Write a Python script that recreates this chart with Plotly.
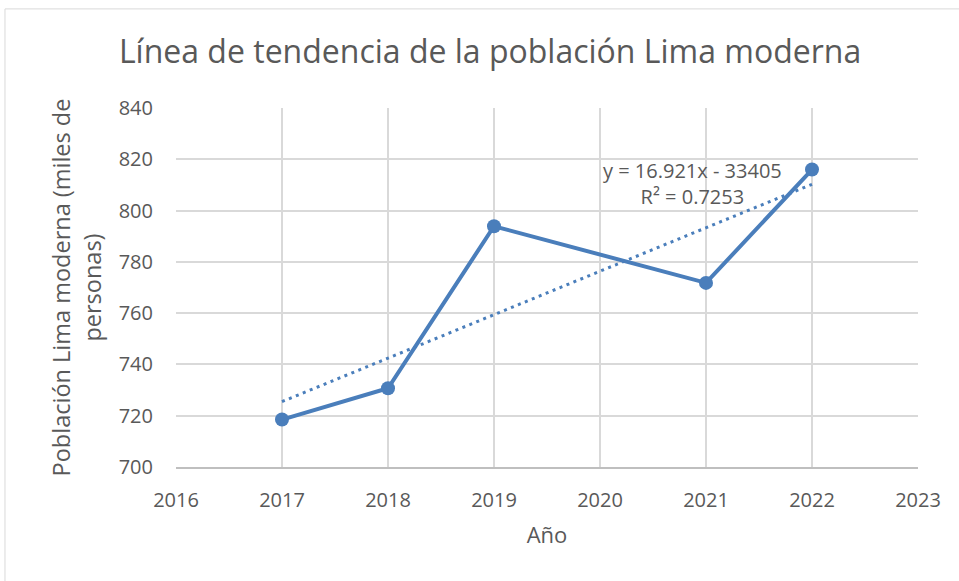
import numpy as np
import plotly.graph_objects as go

years = [2017, 2018, 2019, 2021, 2022]
poblacion = [718.5, 730.7, 793.9, 771.8, 816.0]
x_ticks = [2016, 2017, 2018, 2019, 2020, 2021, 2022, 2023]
y_ticks = [700, 720, 740, 760, 780, 800, 820, 840]
trend_label = "y = 16.921x - 33405<br>R² = 0.7253"

slope, intercept = np.polyfit(years, poblacion, 1)
trend_x = [years[0], years[-1]]
trend_y = [slope * x + intercept for x in trend_x]

color = "#4a7ebb"
font = "'Open Sans', sans-serif"
gray = "#595959"

fig = go.Figure()
fig.add_trace(go.Scatter(x=trend_x, y=trend_y, mode="lines",
                         line=dict(color=color, width=3, dash="3px,4.5px"),
                         showlegend=False, hoverinfo="skip"))
fig.add_trace(go.Scatter(x=years, y=poblacion, mode="lines+markers",
                         line=dict(color=color, width=4),
                         marker=dict(color=color, size=14),
                         showlegend=False))

fig.add_annotation(x=2020.87, y=810.5, xref="x", yref="y", text=trend_label,
                   showarrow=False, xanchor="center", yanchor="middle",
                   align="center", font=dict(family=font, size=20, color=gray))

fig.update_layout(
    width=959, height=581,
    margin=dict(l=176, r=41, t=108, b=114),
    paper_bgcolor="white", plot_bgcolor="white",
    title=dict(text="Línea de tendencia de la población Lima moderna",
               x=0.511, xanchor="center", y=0.91, yanchor="middle",
               font=dict(family=font, size=32, color=gray)),
    font=dict(family=font, color=gray),
    shapes=[dict(type="rect", xref="paper", yref="paper", x0=-0.2305, x1=1.2,
                 y0=-0.5, y1=1.276, line=dict(color="#d9d9d9", width=1),
                 layer="below")],
)
fig.update_xaxes(range=[2016, 2023], tickvals=x_ticks, ticktext=[str(t) for t in x_ticks],
                 showgrid=True, gridcolor="#d9d9d9", gridwidth=1.5,
                 showline=True, linecolor="#bfbfbf", linewidth=1.5,
                 zeroline=False, ticks="", ticklabelstandoff=14,
                 tickfont=dict(family=font, size=20, color=gray),
                 title=dict(text="Año", font=dict(family=font, size=22, color=gray), standoff=16))
fig.update_yaxes(range=[700, 840], tickvals=y_ticks,
                 showgrid=True, gridcolor="#d9d9d9", gridwidth=1.5,
                 showline=False, zeroline=False, ticks="", ticklabelstandoff=22,
                 tickfont=dict(family=font, size=20, color=gray),
                 title=dict(text="Población Lima moderna (miles de<br>personas)",
                            font=dict(family=font, size=23.5, color=gray), standoff=10))

fig.write_html("out.html", config={"displayModeBar": False},
               post_script="document.body.style.margin='0px';")
